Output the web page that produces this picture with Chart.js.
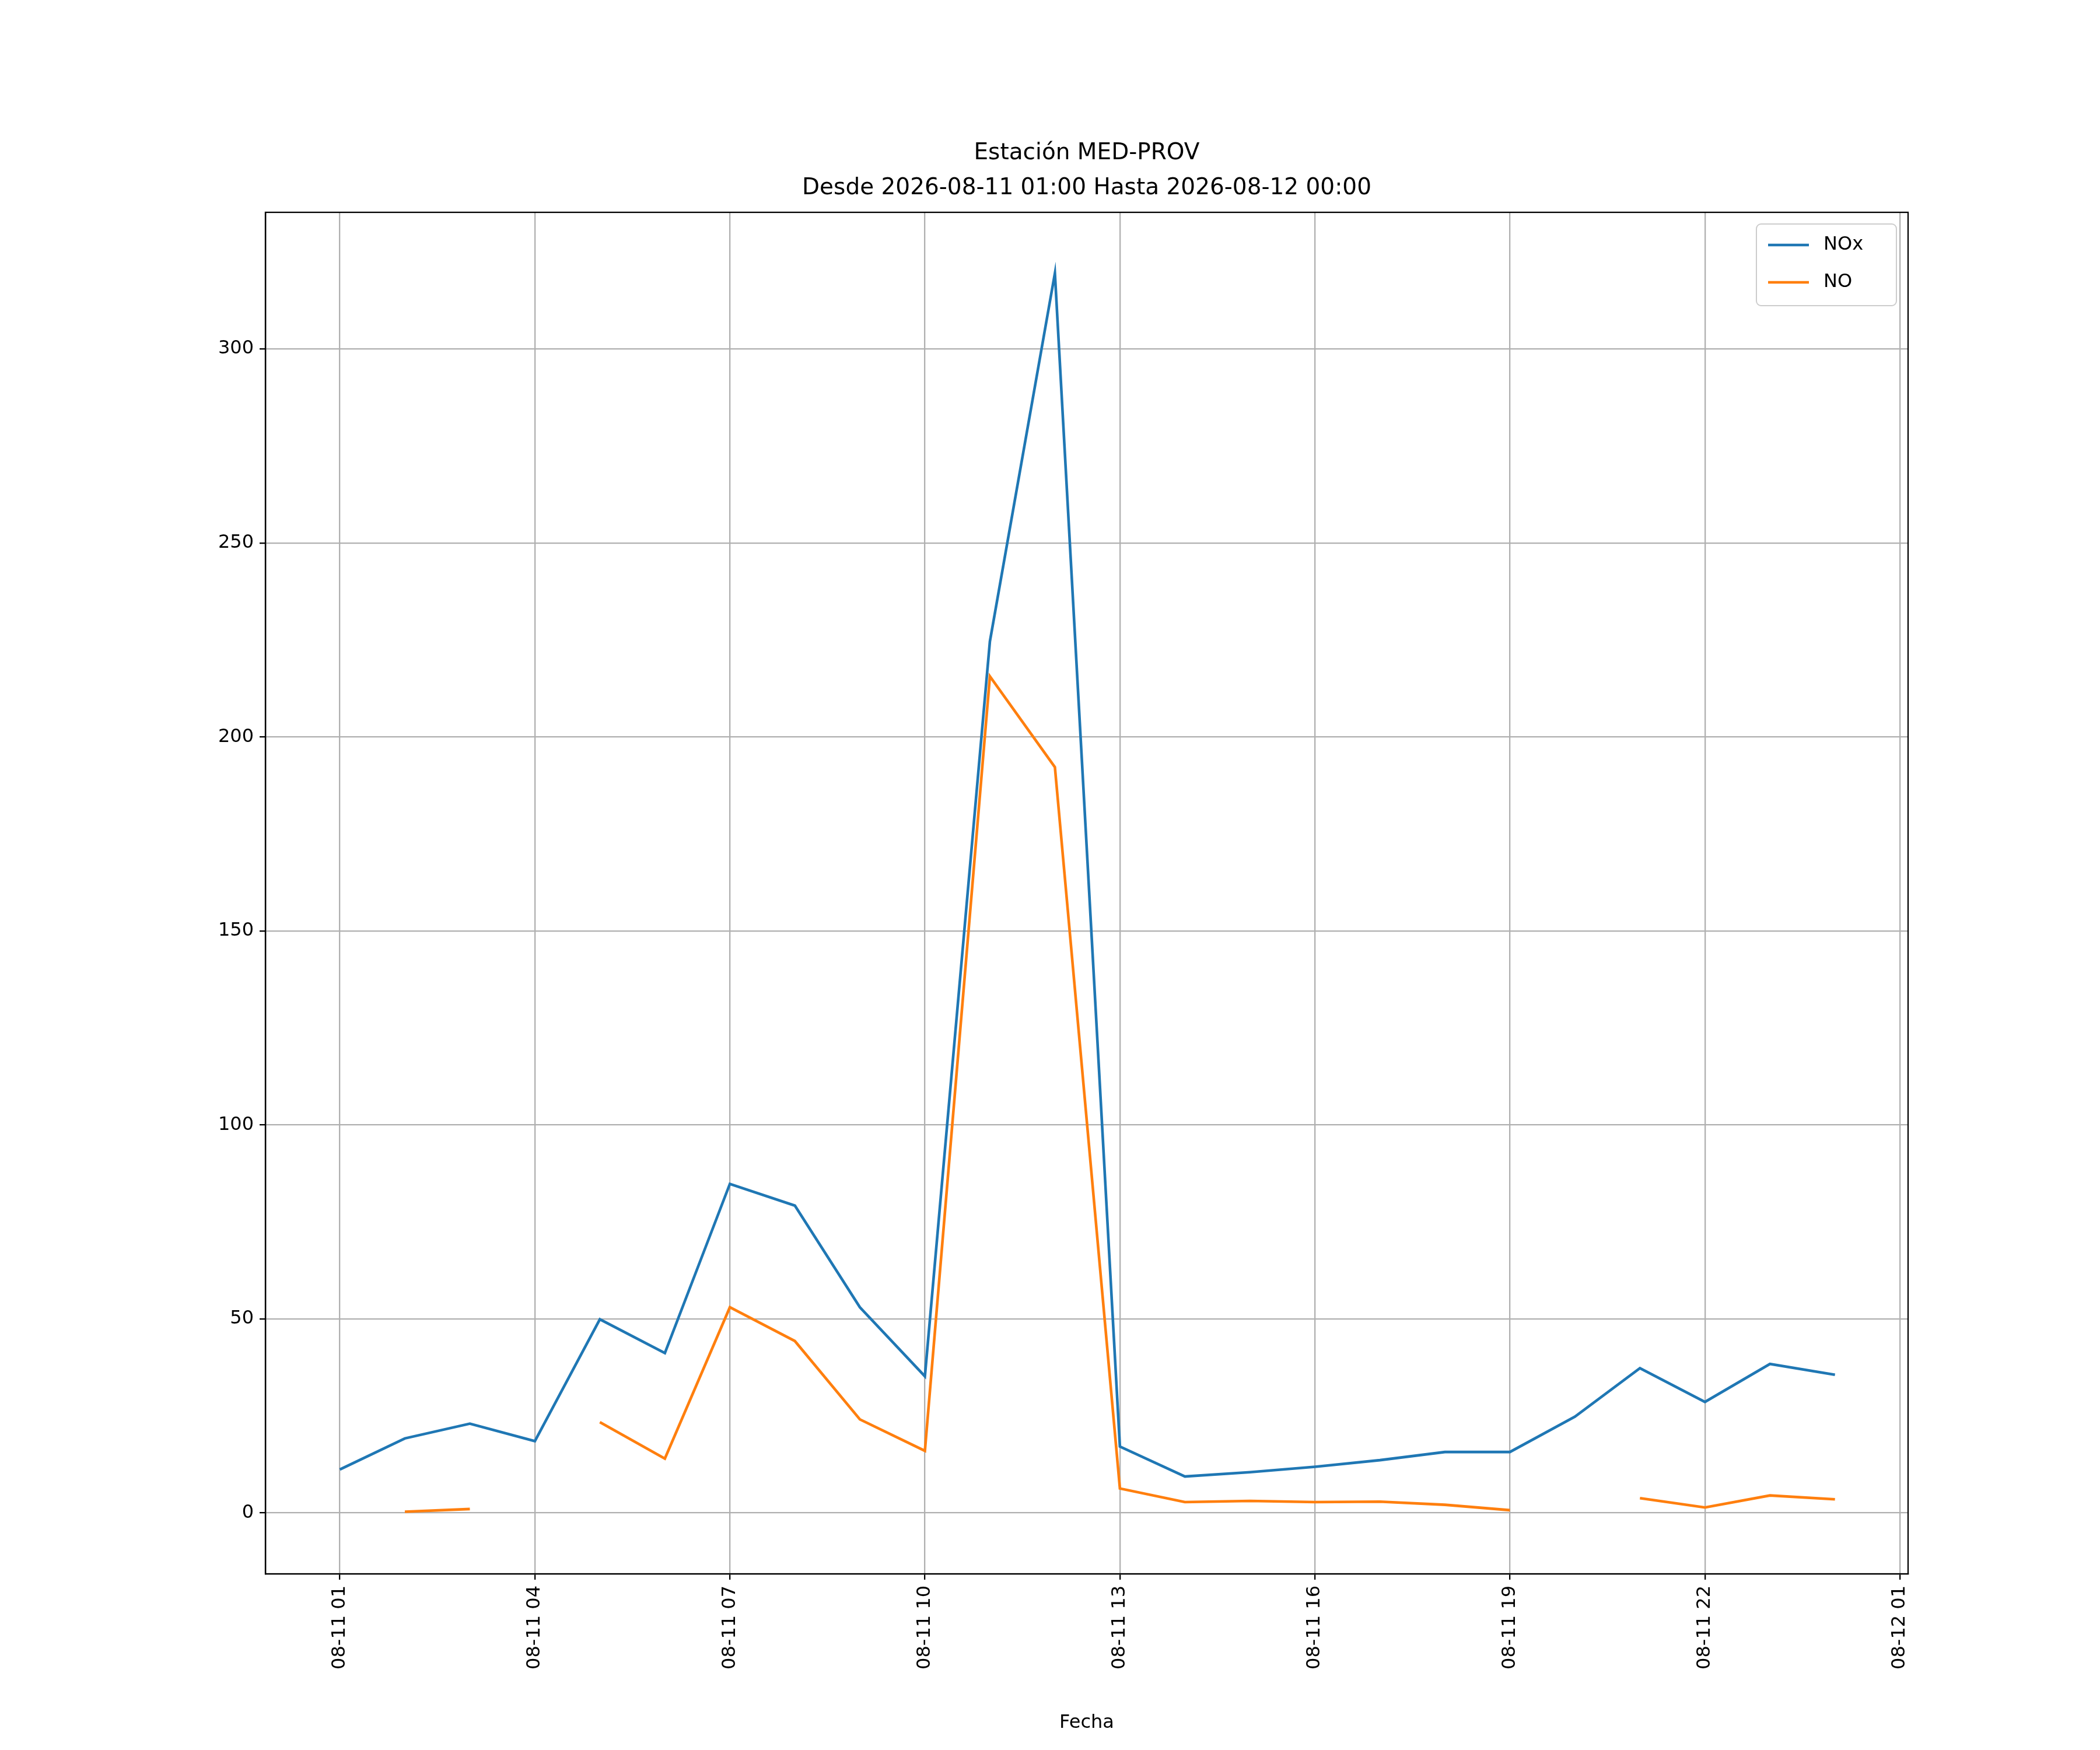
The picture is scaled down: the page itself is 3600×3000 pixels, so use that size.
<!DOCTYPE html>
<html>
<head>
<meta charset="utf-8">
<script src="https://cdn.jsdelivr.net/npm/chart.js@4/dist/chart.umd.min.js"></script>
<style>body{margin:0;background:#fff}</style>
</head>
<body>
<canvas id="c" width="3600" height="3000" style="width:3600px;height:3000px"></canvas>
<script>
// horas 1..24 (24 = 08-12 00)
const horas = [1,2,3,4,5,6,7,8,9,10,11,12,13,14,15,16,17,18,19,20,21,22,23,24];
const nox = [11.2,19.2,23,18.5,49.9,41.2,84.8,79.2,53,35.2,224.6,319.5,17.1,9.4,10.5,11.9,13.6,15.7,15.7,24.8,37.3,28.6,38.4,35.6];
const no = [null,0.3,1,null,23.4,14,53,44.3,24.1,16,215.6,192.2,6.3,2.8,3.1,2.8,2.9,2.1,0.7,null,3.8,1.4,4.5,3.5];
const tickHoras = [1,4,7,10,13,16,19,22,25];
const tickLabels = ["08-11 01","08-11 04","08-11 07","08-11 10","08-11 13","08-11 16","08-11 19","08-11 22","08-12 01"];
const titulo = ["Estación MED-PROV", "Desde 2026-08-11 01:00 Hasta 2026-08-12 00:00"];

const F = "DejaVu Sans";
const toPts = arr => horas.map((h, i) => ({x: h, y: arr[i]}));

// titulo centrado sobre el area, marco y leyenda
const extras = {
  id: "extras",
  afterDraw(chart) {
    const ctx = chart.ctx, a = chart.chartArea;
    ctx.save();
    ctx.strokeStyle = "#000"; ctx.lineWidth = 2.3;
    ctx.strokeRect(a.left, a.top, a.right - a.left, a.bottom - a.top);

    ctx.fillStyle = "#000";
    ctx.font = "39px " + F;
    ctx.textAlign = "center"; ctx.textBaseline = "middle";
    const cx = (a.left + a.right) / 2;
    ctx.fillText(titulo[0], cx, 263);
    ctx.fillText(titulo[1], cx, 323);

    const w = 240, h = 140, x = a.right - w - 20, y = a.top + 20;
    ctx.textAlign = "left";
    ctx.fillStyle = "rgba(255,255,255,0.8)";
    ctx.strokeStyle = "#cccccc"; ctx.lineWidth = 2;
    ctx.beginPath(); ctx.roundRect(x, y, w, h, 8); ctx.fill(); ctx.stroke();
    ctx.font = "32px " + F;
    chart.data.datasets.forEach((ds, i) => {
      const yy = y + 36 + i * 64;
      ctx.strokeStyle = ds.borderColor; ctx.lineWidth = 4.6;
      ctx.beginPath(); ctx.moveTo(x + 20, yy); ctx.lineTo(x + 90, yy); ctx.stroke();
      ctx.fillStyle = "#000"; ctx.fillText(ds.label, x + 115, yy);
    });
    ctx.restore();
  }
};

new Chart(document.getElementById("c"), {
  type: "line",
  data: {
    datasets: [
      {label: "NOx", data: toPts(nox), borderColor: "#1f77b4", borderWidth: 4.6, pointRadius: 0, spanGaps: false, tension: 0},
      {label: "NO", data: toPts(no), borderColor: "#ff7f0e", borderWidth: 4.6, pointRadius: 0, spanGaps: false, tension: 0}
    ]
  },
  options: {
    responsive: false,
    animation: false,
    devicePixelRatio: 1,
    layout: {padding: {top: 364, left: 0, right: 329, bottom: 27}},
    plugins: {
      legend: {display: false},
      tooltip: {enabled: false},
      title: {display: false}
    },
    scales: {
      x: {
        type: "linear", min: -0.145, max: 25.125,
        afterBuildTicks: s => { s.ticks = tickHoras.map(v => ({value: v})); },
        afterFit: s => { s.height = 275; },
        ticks: {
          color: "#000", font: {family: F, size: 32}, minRotation: 90, maxRotation: 90, padding: 10,
          callback: v => tickLabels[tickHoras.indexOf(v)]
        },
        grid: {color: "#b0b0b0", lineWidth: 2.3, tickColor: "#000", tickLength: 10},
        border: {color: "#000", width: 2.3},
        title: {display: true, text: "Fecha", color: "#000", font: {family: F, size: 32}, padding: 0}
      },
      y: {
        min: -15.7, max: 335.2,
        afterBuildTicks: s => { s.ticks = [0,50,100,150,200,250,300].map(v => ({value: v})); },
        afterFit: s => { s.width = 455; },
        ticks: {color: "#000", font: {family: F, size: 32}, padding: 10},
        grid: {color: "#b0b0b0", lineWidth: 2.3, tickColor: "#000", tickLength: 10},
        border: {color: "#000", width: 2.3}
      }
    }
  },
  plugins: [extras]
});
</script>
</body>
</html>
